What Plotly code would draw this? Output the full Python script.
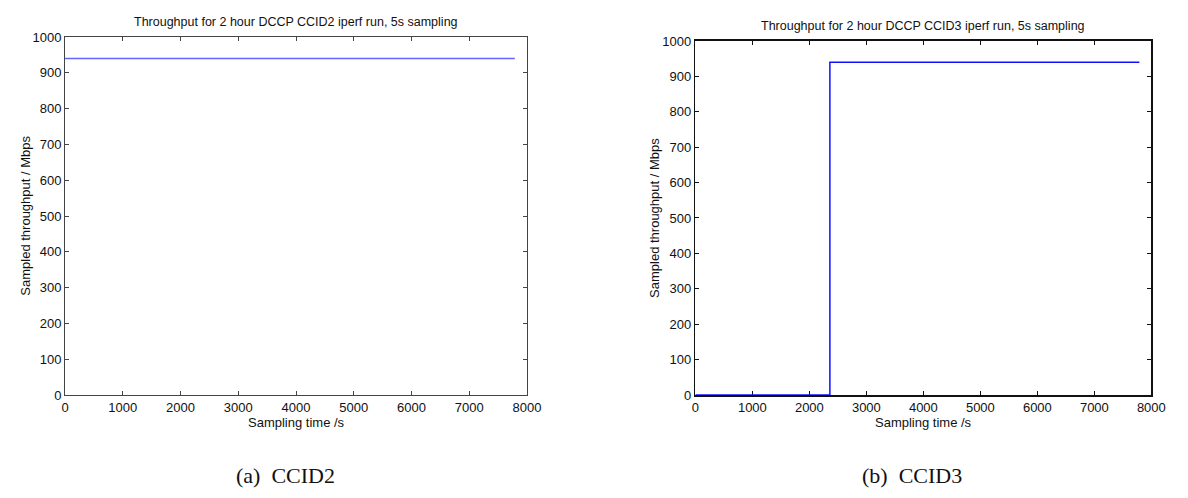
import plotly.graph_objects as go

# Data
ccid2_time = [0, 7790]
ccid2_tput = [940, 940]
ccid3_time = [0, 2360, 2360, 7790]
ccid3_tput = [0, 0, 940, 940]
x_ticks = [0, 1000, 2000, 3000, 4000, 5000, 6000, 7000, 8000]
y_ticks = [0, 100, 200, 300, 400, 500, 600, 700, 800, 900, 1000]
titles = ["Throughput for 2 hour DCCP CCID2 iperf run, 5s sampling",
          "Throughput for 2 hour DCCP CCID3 iperf run, 5s sampling"]
captions = ["(a)  CCID2", "(b)  CCID3"]
xlabel = "Sampling time /s"
ylabel = "Sampled throughput / Mbps"

W, H = 1188, 498
fig = go.Figure()
fig.add_trace(go.Scatter(x=ccid2_time, y=ccid2_tput, mode="lines",
                         line=dict(color="#6464ff", width=1.5), xaxis="x", yaxis="y",
                         showlegend=False, hoverinfo="skip"))
fig.add_trace(go.Scatter(x=ccid3_time, y=ccid3_tput, mode="lines",
                         line=dict(color="#1010ff", width=1.5), xaxis="x2", yaxis="y2",
                         showlegend=False, hoverinfo="skip"))

font = dict(family="Liberation Sans, Arial, sans-serif", size=13, color="#111")

def ax(domain, anchor, vals, rng, col, lw):
    return dict(domain=domain, anchor=anchor, range=rng, tickvals=vals, ticks="inside",
                ticklen=4, tickcolor=col, tickwidth=1, showline=True, linecolor=col,
                linewidth=lw, mirror="ticks", showgrid=False, zeroline=False,
                tickfont=font, layer="below traces", fixedrange=True)

# (x0, x1, y0, y1, axis colour, axis width, title y, caption centre x)
boxes = [(62, 531, 31, 400, "#444", 1, 15, 286),
         (702, 1165, 35, 400, "#111", 1.6, 20, 922)]
layout = dict(width=W, height=H, margin=dict(l=0, r=0, t=0, b=0),
              plot_bgcolor="white", paper_bgcolor="white", annotations=[])
for i, (x0, x1, y0, y1, col, lw, ty, capx) in enumerate(boxes):
    s = "" if i == 0 else "2"
    xd = [x0 / W, x1 / W]
    yd = [1 - y1 / H, 1 - y0 / H]
    layout["xaxis" + s] = ax(xd, "y" + s, x_ticks, [0, 8000], col, lw)
    layout["yaxis" + s] = ax(yd, "x" + s, y_ticks, [0, 1000], col, lw)
    cx = (x0 + x1) / 2
    layout["annotations"] += [
        dict(text=titles[i], x=cx / W, y=1 - ty / H, xref="paper", yref="paper",
             showarrow=False, font=dict(font, size=12.5), xanchor="center", yanchor="middle"),
        dict(text=xlabel, x=cx / W, y=1 - 428 / H, xref="paper", yref="paper",
             showarrow=False, font=font, xanchor="center", yanchor="middle"),
        dict(text=ylabel, x=(x0 - 41) / W, y=1 - ((y0 + y1) / 2) / H, xref="paper", yref="paper",
             showarrow=False, font=font, textangle=-90, xanchor="center", yanchor="middle"),
        dict(text=captions[i], x=capx / W, y=1 - 483 / H, xref="paper", yref="paper",
             showarrow=False, font=dict(family="Liberation Serif, Times New Roman, serif",
                                        size=22, color="#111"),
             xanchor="center", yanchor="middle"),
    ]

fig.update_layout(**layout)
fig.write_html("out.html", config={"displayModeBar": False, "staticPlot": True},
               post_script="document.body.style.margin='0px';document.body.style.overflow='hidden';")
